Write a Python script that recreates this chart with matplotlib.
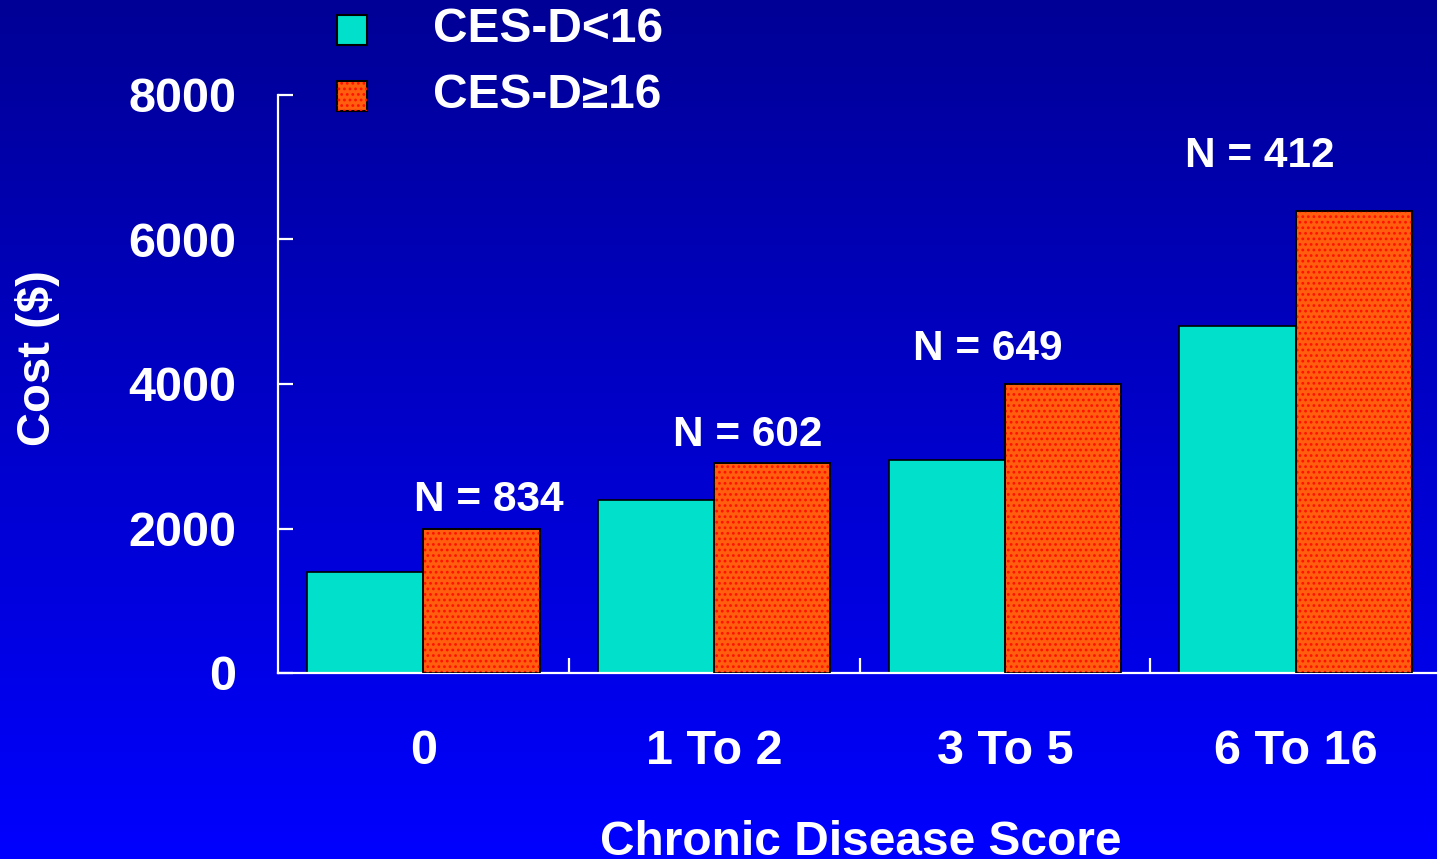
import numpy as np
import matplotlib
matplotlib.use("Agg")
import matplotlib.pyplot as plt
from matplotlib.patches import Rectangle
from matplotlib.colors import LinearSegmentedColormap

plt.rcParams['font.family'] = ['Liberation Sans', 'DejaVu Sans']
plt.rcParams['font.weight'] = 'bold'
plt.rcParams['hatch.linewidth'] = 1.2

# data
categories = ['0', '1 To 2', '3 To 5', '6 To 16']
cost_low = [1400, 2400, 2950, 4800]     # CES-D<16
cost_high = [2000, 2900, 4000, 6400]    # CES-D>=16
n_labels = ['N = 834', 'N = 602', 'N = 649', 'N = 412']

teal = '#00E0CA'
orange = '#FF5E0E'
white = 'white'

fig = plt.figure(figsize=(14.37, 8.59), dpi=100)

# gradient background
bg = fig.add_axes([0, 0, 1, 1], zorder=-10)
grad = np.linspace(0, 1, 256).reshape(-1, 1)
cmap = LinearSegmentedColormap.from_list('bg', ['#000096', '#0000FF'])
bg.imshow(grad, aspect='auto', cmap=cmap, extent=[0, 1, 0, 1])
bg.axis('off')

ax = fig.add_axes([278 / 1437, 186 / 859, 1163 / 1437, 578 / 859])
ax.patch.set_alpha(0)

x = np.arange(len(categories))
w = 0.4
ax.bar(x - w / 2, cost_low, w, color=teal, edgecolor='black', linewidth=1.2, zorder=2)
ax.bar(x + w / 2, cost_high, w, color=orange, edgecolor='black', linewidth=1.2, zorder=2)
# dotted texture on the orange bars
ax.bar(x + w / 2, cost_high, w, color='none', edgecolor='#FF1000', hatch='...',
       linewidth=0, zorder=3)
ax.bar(x + w / 2, cost_high, w, color='none', edgecolor='black', linewidth=1.2, zorder=4)

ax.set_xlim(-0.5, 3.5)
ax.set_ylim(0, 8000)
ax.set_yticks([0, 2000, 4000, 6000, 8000])
ax.set_xticks(x)
ax.set_xticklabels(categories)
ax.set_xticks([0.5, 1.5, 2.5], minor=True)

for s in ['top', 'right']:
    ax.spines[s].set_visible(False)
for s in ['left', 'bottom']:
    ax.spines[s].set_color(white)
    ax.spines[s].set_linewidth(1.6)

ax.tick_params(axis='y', direction='in', length=11, width=1.6, colors=white,
               labelsize=35, pad=30)
ax.tick_params(axis='x', which='major', length=0, colors=white, labelsize=35, pad=40)
ax.tick_params(axis='x', which='minor', direction='in', length=11, width=1.6, colors=white)
for lab in ax.get_xticklabels() + ax.get_yticklabels():
    lab.set_fontweight('bold')

fig.text(38 / 1437, 1 - 358 / 859, 'Cost ($)', color=white, fontsize=34,
         fontweight='bold', rotation=90, ha='center', va='center')

fig.text(861 / 1437, 4 / 859, 'Chronic Disease Score', color=white, fontsize=34.5,
         fontweight='bold', ha='center', va='baseline')

# N labels above the groups
label_pos = [(0.226, 2400), (1.117, 3290), (1.942, 4490), (2.878, 7150)]
for (lx, ly), t in zip(label_pos, n_labels):
    ax.text(lx, ly, t, color=white, fontsize=30.5, fontweight='bold',
            ha='center', va='center')

# legend
for yc, col, lab in [(30, teal, 'CES-D<16'), (96, orange, 'CES-D\u226516')]:
    r = Rectangle((337 / 1437, 1 - (yc + 15) / 859), 30 / 1437, 30 / 859,
                  transform=fig.transFigure, facecolor=col, edgecolor='black',
                  linewidth=1.5)
    fig.add_artist(r)
    if col == orange:
        fig.add_artist(Rectangle((337 / 1437, 1 - (yc + 15) / 859), 30 / 1437, 30 / 859,
                                 transform=fig.transFigure, facecolor='none',
                                 edgecolor='#FF1000', hatch='...', linewidth=0))
    fig.text(433 / 1437, 1 - yc / 859, lab, color=white, fontsize=34.5,
             fontweight='bold', ha='left', va='center')

fig.savefig('out.png', dpi=100, facecolor=fig.get_facecolor())
